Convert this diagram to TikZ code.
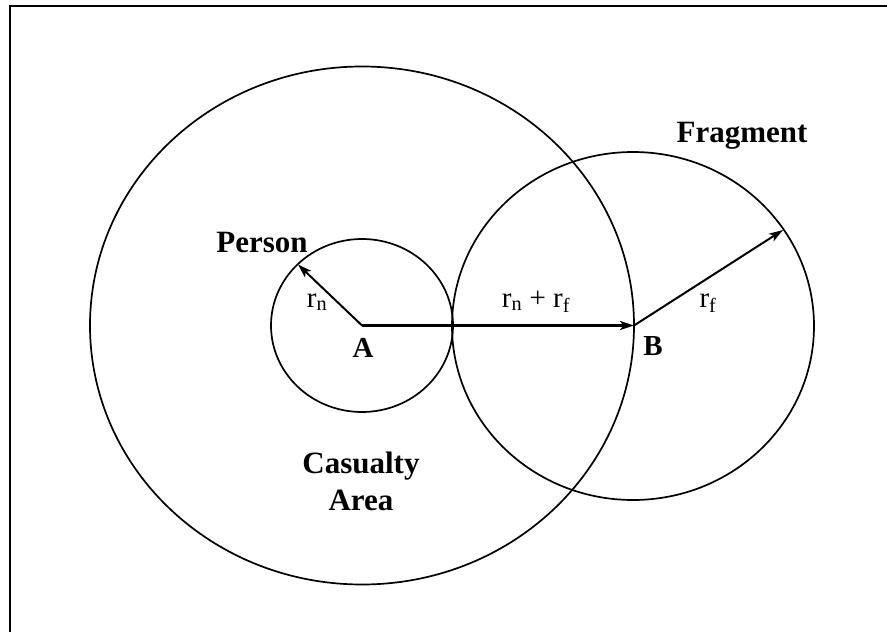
\documentclass[tikz,border=0pt]{standalone}
\usepackage{fontspec}
\setmainfont{Liberation Serif}
\usetikzlibrary{arrows.meta}
\begin{document}
\begin{tikzpicture}[x=1pt,y=-1pt,
  ring/.style={line width=1.7pt},
  frame/.style={line width=2pt},
  vec/.style={line width=2pt,-{Stealth[length=14pt,width=9pt,inset=3.5pt]}},
  lbl/.style={font=\fontsize{31}{37}\selectfont\bfseries, inner sep=0pt, align=center},
  pt/.style={font=\fontsize{29}{30}\selectfont\bfseries, inner sep=0pt},
  sym/.style={font=\fontsize{29}{30}\selectfont, inner sep=0pt}]
\useasboundingbox (0,0) rectangle (887,632);
\draw[frame] (10,632) -- (10,6) -- (887,6);
% circles
\draw[ring] (362,325.5) ellipse [x radius=272, y radius=259];
\draw[ring] (362,325.5) ellipse [x radius=91, y radius=86.5];
\draw[ring] (633,326) ellipse [x radius=181, y radius=174];
% points
\coordinate (A) at (362,325.5);
\coordinate (B) at (634,325.5);
\coordinate (pn) at (298,264.5);
\coordinate (pf) at (783,230);
% vectors
\draw[vec] (A) -- (pn);
\draw[vec, line width=2.4pt] (A) -- (B);
\draw[vec] (B) -- (pf);
% labels
\node[pt] (la) at (363,348) {A};
\node[pt] (lb) at (653,346) {B};
\node[lbl, anchor=base] (person) at (262,252) {Person};
\node[lbl, anchor=base] (fragment) at (742,142) {Fragment};
\node[lbl, anchor=base] (casualty) at (361,510) {Casualty\\Area};
\node[sym, anchor=base] (rn) at (317,307) {r\textsubscript{n}};
\node[sym, anchor=base] (rnf) at (536,307) {r\textsubscript{n} + r\textsubscript{f}};
\node[sym, anchor=base] (rf) at (708,307) {r\textsubscript{f}};
\end{tikzpicture}
\end{document}
